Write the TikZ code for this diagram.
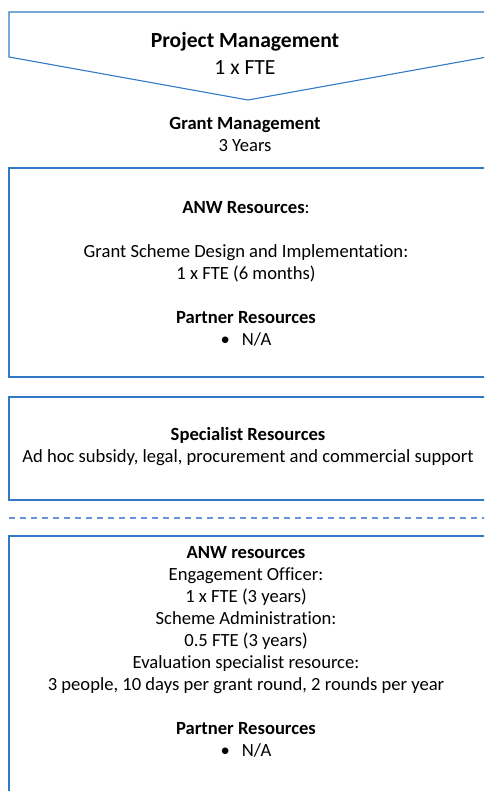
\documentclass[tikz,border=0pt]{standalone}
\usepackage{fontspec}
\setmainfont{Carlito}[Ligatures={NoCommon}]
\definecolor{boxblue}{RGB}{50,122,198}
\definecolor{dashblue}{RGB}{105,145,222}

\tikzstyle{frame} = [draw=boxblue, line width=1.1pt]
\tikzstyle{sep} = [draw=dashblue, line width=1.3pt, dash pattern=on 6pt off 5pt]
\tikzstyle{txt} = [align=center, inner sep=0pt, font=\fontsize{18.6}{22}\selectfont]
\tikzstyle{big} = [align=center, inner sep=0pt, font=\fontsize{21.6}{27}\selectfont]

\begin{document}
\begin{tikzpicture}[x=1pt,y=-1pt]
\useasboundingbox (0,0) rectangle (484,791);
\clip (0,0) rectangle (484,791);
\draw [frame] (487,12) -- (9,12) -- (9,57) -- (248,100) -- (487,57) -- cycle;
\draw [frame] (9,168) rectangle (490,377);
\draw [frame] (9,397) rectangle (490,500);
\draw [frame] (9,536) rectangle (490,800);
\coordinate (sl) at (9,518);
\coordinate (sr) at (490,518);
\draw [sep] (sl) -- (sr);
\node [big] (pm) at (245,53) {\textbf{Project Management}\\1 x FTE};
\node [txt] (gm) at (245,134) {\textbf{Grant Management}\\3 Years};
\node [txt] (anwa) at (246,274) {\textbf{ANW Resources}:\\[22pt]
	Grant Scheme Design and Implementation:\\
	1 x FTE (6 months)\\[22pt]
	\textbf{Partner Resources}\\
	\textbullet\hspace{12pt}N/A};
\node [txt] (spec) at (248,447) {\textbf{Specialist Resources}\\
	Ad hoc subsidy, legal, procurement and commercial support};
\node [txt] (anwb) at (246,652) {\textbf{ANW resources}\\
	Engagement Officer:\\
	1 x FTE (3 years)\\
	Scheme Administration:\\
	0.5 FTE (3 years)\\
	Evaluation specialist resource:\\
	3 people, 10 days per grant round, 2 rounds per year\\[22pt]
	\textbf{Partner Resources}\\
	\textbullet\hspace{12pt}N/A};
\end{tikzpicture}
\end{document}
